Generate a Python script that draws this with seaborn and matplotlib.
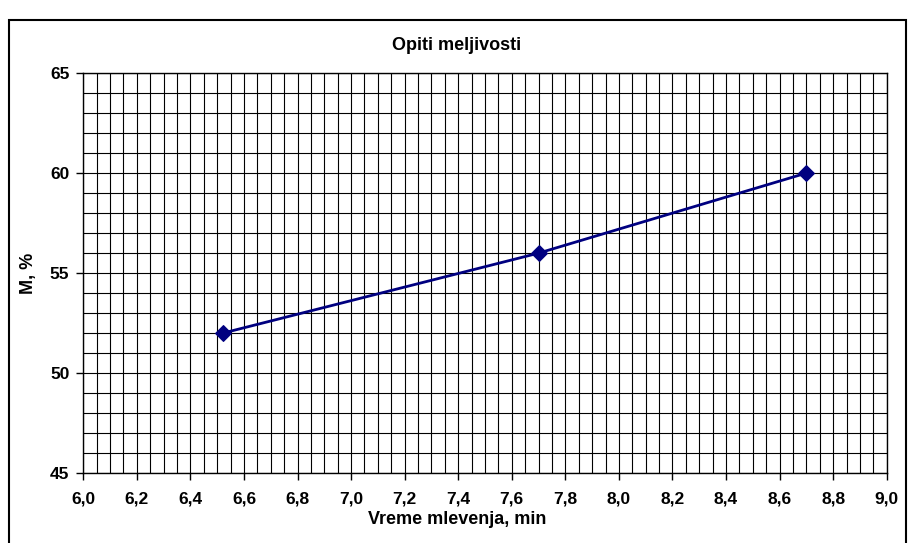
import pandas as pd
import matplotlib.pyplot as plt
import matplotlib.ticker as mticker
from matplotlib.patches import Rectangle
import seaborn as sns

# data
vreme = [6.52, 7.7, 8.7]
meljivost = [52, 56, 60]

df = pd.DataFrame({'Vreme': vreme, 'M': meljivost})

sns.set_theme(style="white")
plt.rcParams['font.family'] = ['Liberation Sans', 'DejaVu Sans']
plt.rcParams['font.weight'] = 'bold'

fig = plt.figure(figsize=(9.12, 5.43), dpi=100)
ax = fig.add_axes([83.3 / 912, 1 - 473.3 / 543, (886.7 - 83.3) / 912, (473.3 - 73) / 543])

sns.lineplot(data=df, x='Vreme', y='M', ax=ax, color='#000080', lw=2.0,
             marker='D', markersize=8, markeredgecolor='#000080', zorder=5)

ax.set_xlim(6.0, 9.0)
ax.set_ylim(45, 65)
ax.xaxis.set_major_locator(mticker.MultipleLocator(0.2))
ax.xaxis.set_minor_locator(mticker.MultipleLocator(0.05))
ax.yaxis.set_major_locator(mticker.MultipleLocator(5))
ax.yaxis.set_minor_locator(mticker.MultipleLocator(1))
ax.xaxis.set_major_formatter(mticker.FuncFormatter(lambda v, p: f"{v:.1f}".replace('.', ',')))

ax.grid(which='both', color='black', lw=0.8)
ax.set_axisbelow(True)
for s in ax.spines.values():
    s.set_color('black')
    s.set_linewidth(1.0)

ax.tick_params(which='major', bottom=True, left=True, direction='out', length=5,
               width=1, color='black', labelsize=12.5, labelcolor='black')
ax.tick_params(which='minor', bottom=False, left=False, length=0)
ax.tick_params(axis='x', pad=8)
ax.tick_params(axis='y', pad=5)
for lab in ax.get_xticklabels() + ax.get_yticklabels():
    lab.set_fontweight('bold')

ax.set_xlabel('')
ax.set_ylabel('')

fig.text(457 / 912, 1 - 46 / 543, 'Opiti meljivosti', ha='center', va='center',
         fontsize=13, fontweight='bold', color='black')
fig.text(457 / 912, 1 - 519 / 543, 'Vreme mlevenja, min', ha='center', va='center',
         fontsize=13, fontweight='bold', color='black')
fig.text(29 / 912, 1 - 273 / 543, 'M, %', ha='center', va='center', rotation=90,
         fontsize=13, fontweight='bold', color='black')

# outer chart border
fig.patches.append(Rectangle((9 / 912, -0.05), (906 - 9) / 912, 1.05 - 20 / 543,
                             transform=fig.transFigure, fill=False,
                             edgecolor='black', lw=1.5))

fig.savefig('out.png', dpi=100)
